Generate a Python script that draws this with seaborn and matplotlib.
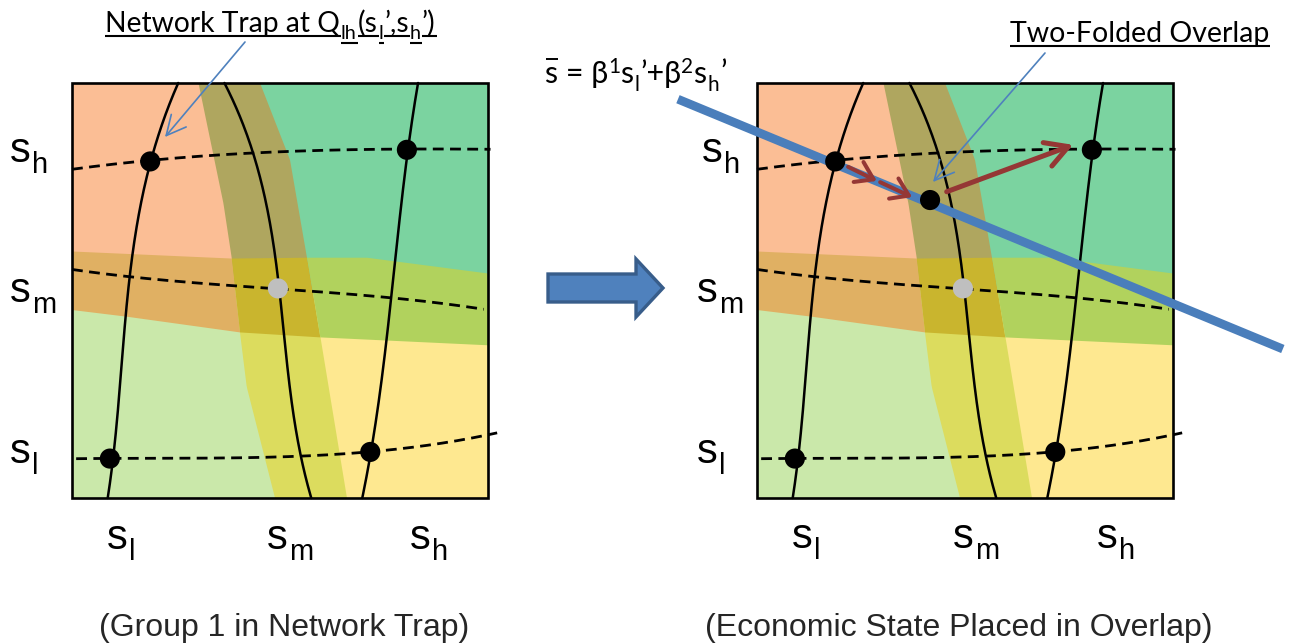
import numpy as np
import matplotlib
matplotlib.use('Agg')
import matplotlib.pyplot as plt
import seaborn as sns
from matplotlib.patches import Polygon, Rectangle

sns.set_theme(style='white')
SANS = ['Liberation Sans', 'DejaVu Sans']
CAL = ['Lato', 'Noto Sans', 'DejaVu Sans']
plt.rcParams['font.family'] = SANS

# ---------------- data (panel units: u across the box, v down the box) -------------
CURVE_L_U = [0.256, 0.188, 0.144, 0.123, 0.091, 0.090]
CURVE_L_V = [0.0, 0.189, 0.418, 0.692, 0.905, 1.0]
CURVE_M_U = [0.364, 0.436, 0.476, 0.495, 0.532, 0.574]
CURVE_M_V = [0.0, 0.153, 0.354, 0.495, 0.772, 1.0]
CURVE_H_U = [0.833, 0.805, 0.773, 0.741, 0.717, 0.699]
CURVE_H_V = [0.0, 0.161, 0.491, 0.732, 0.889, 1.0]

DASH_H_U = [0.0, 0.188, 0.452, 0.805, 1.006]
DASH_H_V = [0.207, 0.189, 0.165, 0.161, 0.159]
DASH_M_U = [0.0, 0.212, 0.495, 0.773, 0.99]
DASH_M_V = [0.449, 0.475, 0.495, 0.519, 0.545]
DASH_L_U = [0.010, 0.091, 0.484, 0.717, 0.853, 1.022]
DASH_L_V = [0.905, 0.905, 0.901, 0.889, 0.873, 0.843]

EQ_U = [0.188, 0.805, 0.091, 0.717]
EQ_V = [0.189, 0.161, 0.905, 0.889]
TRAP_U = [0.495]
TRAP_V = [0.495]

# vertical (s_m) band and horizontal (s_m) band boundaries
VB_L_U = [0.304, 0.364, 0.384, 0.404, 0.420, 0.488]
VB_L_V = [0.0, 0.290, 0.422, 0.603, 0.732, 1.0]
VB_R_U = [0.452, 0.524, 0.565, 0.597, 0.661]
VB_R_V = [0.0, 0.185, 0.422, 0.611, 1.0]
HB_T_U = [0.0, 0.384, 0.565, 0.709, 1.0]
HB_T_V = [0.406, 0.423, 0.421, 0.421, 0.459]
HB_B_U = [0.0, 0.131, 0.404, 0.597, 1.0]
HB_B_V = [0.547, 0.563, 0.601, 0.613, 0.632]

# quadrant regions (their shared borders lie under the bands)
QUAD_TL = [(0, 0), (0.38, 0), (0.475, 0.5), (0, 0.5)]
QUAD_TR = [(0.38, 0), (1, 0), (1, 0.5), (0.475, 0.5)]
QUAD_BL = [(0, 0.5), (0.475, 0.5), (0.57, 1), (0, 1)]
QUAD_BR = [(0.475, 0.5), (1, 0.5), (1, 1), (0.57, 1)]

# right panel extras
BLUE_LINE_U = [-0.19, 1.264]
BLUE_LINE_V = [0.039, 0.641]
OVERLAP_U = [0.416]
OVERLAP_V = [0.282]
RED_ARROWS = [((0.219, 0.202), (0.288, 0.236)),
              ((0.296, 0.239), (0.373, 0.275)),
              ((0.456, 0.262), (0.760, 0.149))]

AXIS_SUBS = ['l', 'm', 'h']
CAPTIONS = ['(Group 1 in Network Trap)', '(Economic State Placed in Overlap)']

COL = dict(tl='#FBBE95', tr='#7BD3A0', bl='#CAE8AA', br='#FEE890',
           vb_top='#AFA65F', vb_bot='#DCDC5E', hb_left='#E0B063',
           hb_mid='#C9B52E', hb_right='#B1D25D', grey='#BFBFBF',
           blue='#4A7EBB', thin='#4F81BD', red='#953735', edge='#385D8A')

# ---------------- layout ----------------
PANEL_X0 = [72, 757]
PANEL_Y0 = 83
PANEL_W = 416
PANEL_H = 415

fig = plt.figure(figsize=(12.96, 6.44), dpi=100)
ax = fig.add_axes([0, 0, 1, 1])
ax.set_xlim(0, 1296)
ax.set_ylim(644, 0)
ax.axis('off')
R = fig.canvas.get_renderer()


def to_px(p, u, v):
    return (PANEL_X0[p] + np.asarray(u, float) * PANEL_W,
            PANEL_Y0 + np.asarray(v, float) * PANEL_H)


def smooth_vert(us, vs, deg=3):
    """smooth curve u(v) through the read control points"""
    c = np.polyfit(vs, us, deg)
    vv = np.linspace(vs[0], vs[-1], 200)
    return np.polyval(c, vv), vv


def smooth_horiz(us, vs, deg=3):
    c = np.polyfit(us, vs, deg)
    uu = np.linspace(us[0], us[-1], 200)
    return uu, np.polyval(c, uu)


def poly(p, pts, color, z=1):
    pts = np.asarray(pts, float)
    x, y = to_px(p, pts[:, 0], pts[:, 1])
    ax.add_patch(Polygon(np.column_stack([x, y]), closed=True, facecolor=color,
                         edgecolor='none', zorder=z))


def draw_panel(p):
    poly(p, QUAD_TL, COL['tl'])
    poly(p, QUAD_TR, COL['tr'])
    poly(p, QUAD_BL, COL['bl'])
    poly(p, QUAD_BR, COL['br'])
    # vertical band
    for v0, v1, c in [(0.0, 0.5, COL['vb_top']), (0.5, 1.0, COL['vb_bot'])]:
        vv = np.linspace(v0, v1, 60)
        left = np.column_stack([np.interp(vv, VB_L_V, VB_L_U), vv])
        right = np.column_stack([np.interp(vv, VB_R_V, VB_R_U), vv])[::-1]
        poly(p, np.vstack([left, right]), c, z=1.2)
    # horizontal band
    ult, ulb = VB_L_U[2], VB_L_U[3]
    urt, urb = VB_R_U[2], VB_R_U[3]
    uu = np.linspace(0, ult, 40)
    ub = np.linspace(ulb, 0, 40)
    left = np.vstack([np.column_stack([uu, np.interp(uu, HB_T_U, HB_T_V)]),
                      np.column_stack([ub, np.interp(ub, HB_B_U, HB_B_V)])])
    poly(p, left, COL['hb_left'], z=1.4)
    mid = [(ult, np.interp(ult, HB_T_U, HB_T_V)), (urt, np.interp(urt, HB_T_U, HB_T_V)),
           (urb, np.interp(urb, HB_B_U, HB_B_V)), (ulb, np.interp(ulb, HB_B_U, HB_B_V))]
    poly(p, mid, COL['hb_mid'], z=1.4)
    uu = np.linspace(urt, 1, 40)
    ub = np.linspace(1, urb, 40)
    right = np.vstack([np.column_stack([uu, np.interp(uu, HB_T_U, HB_T_V)]),
                       np.column_stack([ub, np.interp(ub, HB_B_U, HB_B_V)])])
    poly(p, right, COL['hb_right'], z=1.4)

    # solid curves
    for cu, cv in [(CURVE_L_U, CURVE_L_V), (CURVE_M_U, CURVE_M_V), (CURVE_H_U, CURVE_H_V)]:
        su, sv = smooth_vert(cu, cv)
        x, y = to_px(p, su, sv)
        sns.lineplot(x=x, y=y, sort=False, estimator=None, color='black', lw=1.8, ax=ax, zorder=3)
    # dashed curves
    for cu, cv in [(DASH_H_U, DASH_H_V), (DASH_M_U, DASH_M_V), (DASH_L_U, DASH_L_V)]:
        su, sv = smooth_horiz(cu, cv)
        x, y = to_px(p, su, sv)
        ax.plot(x, y, color='black', lw=2.0, linestyle=(0, (3.9, 2.3)), zorder=3)
    # frame
    ax.add_patch(Rectangle((PANEL_X0[p], PANEL_Y0), PANEL_W, PANEL_H, fill=False,
                           edgecolor='black', lw=1.9, zorder=5))
    # dots
    x, y = to_px(p, EQ_U, EQ_V)
    sns.scatterplot(x=x, y=y, s=210, color='black', edgecolor='none', ax=ax, zorder=7)
    x, y = to_px(p, TRAP_U, TRAP_V)
    sns.scatterplot(x=x, y=y, s=210, color=COL['grey'], edgecolor='none', ax=ax, zorder=7)


draw_panel(0)
draw_panel(1)

# blue s-bar line on right panel
x, y = to_px(1, BLUE_LINE_U, BLUE_LINE_V)
ax.plot(x, y, color=COL['blue'], lw=6.3, solid_capstyle='butt', zorder=6)
x, y = to_px(1, OVERLAP_U, OVERLAP_V)
sns.scatterplot(x=x, y=y, s=210, color='black', edgecolor='none', ax=ax, zorder=7)
for i, (a, b) in enumerate(RED_ARROWS):
    xa, ya = to_px(1, a[0], a[1])
    xb, yb = to_px(1, b[0], b[1])
    big = i == 2
    style = '->,head_length=0.8,head_width=0.45' if big else '->,head_length=0.6,head_width=0.4'
    ax.annotate('', xy=(xb, yb), xytext=(xa, ya),
                arrowprops=dict(arrowstyle=style, color=COL['red'], lw=3.6 if big else 2.9,
                                shrinkA=0, shrinkB=0, mutation_scale=20), zorder=8)

# thin pointer arrows
ax.annotate('', xy=(165, 137), xytext=(245, 42),
            arrowprops=dict(arrowstyle='->,head_length=0.7,head_width=0.35', color=COL['thin'],
                            lw=1.2, shrinkA=0, shrinkB=0, mutation_scale=20), zorder=8)
ax.annotate('', xy=(933, 182), xytext=(1045, 53),
            arrowprops=dict(arrowstyle='->,head_length=0.7,head_width=0.35', color=COL['thin'],
                            lw=1.2, shrinkA=0, shrinkB=0, mutation_scale=20), zorder=8)

# block arrow between panels
ax.add_patch(Polygon([(548, 274), (636, 274), (636, 259), (663, 288), (636, 317), (636, 302),
                      (548, 302)], closed=True, facecolor=COL['thin'], edgecolor=COL['edge'],
                     lw=2.4, joinstyle='miter', zorder=5))


# ---------------- text ----------------
def width(t):
    return t.get_window_extent(renderer=R).width


def s_label(x, y, sub, size=30, subsize=21, drop=11):
    t = ax.text(x, y, 's', fontsize=size, ha='left', va='baseline', family=SANS, color='black')
    ax.text(x + width(t) + 1, y + drop, sub, fontsize=subsize, ha='left', va='baseline',
            family=SANS, color='black')


for (yx, xx, xy) in [((10, 10, 10), (107, 267, 410), 549), ((697, 697, 702), (792, 953, 1097), 548)]:
    for base, sub, lx in zip([463, 302, 162], AXIS_SUBS, yx):
        s_label(lx, base, sub)
    for sub, lx in zip(AXIS_SUBS, xx):
        s_label(lx, xy, sub)

ax.text(284, 636, CAPTIONS[0], fontsize=23, ha='center', va='baseline', family=SANS)
ax.text(959, 636, CAPTIONS[1], fontsize=23, ha='center', va='baseline', family=SANS)


def runs(items, x, y, size, sub_scale=0.7, drop=7, rise=11, underline=False):
    cur = x
    for txt, kind in items:
        if kind == 'n':
            sz, yy, gap = size, y, 1
        elif kind == 's':
            sz, yy, gap = size * sub_scale, y + drop, 1
        else:
            sz, yy, gap = size * sub_scale, y - rise, 0
            cur -= 1
        t = ax.text(cur, yy, txt, fontsize=sz, family=CAL, ha='left', va='baseline', color='black')
        w = width(t)
        if underline:
            ax.plot([cur, cur + w + 1], [yy + 3.5, yy + 3.5], color='black', lw=1.5,
                    solid_capstyle='butt')
        cur += w + gap
    return cur


runs([('Network Trap at Q', 'n'), ('lh', 's'), ('(s', 'n'), ('l', 's'), ('\u2019,s', 'n'),
      ('h', 's'), ('\u2019)', 'n')], 105, 32, 20.3, underline=True)
runs([('Two-Folded Overlap', 'n')], 1010, 42, 20.5, underline=True)

tmp = ax.text(545, 83, 's', fontsize=22, family=CAL, ha='left', va='baseline')
sw = width(tmp)
ax.plot([546, 545 + sw], [59, 59], color='black', lw=1.4, solid_capstyle='butt')
runs([('s = \u03b2', 'n'), ('1', 'u'), ('s', 'n'), ('l', 's'), ('\u2019+\u03b2', 'n'), ('2', 'u'),
      ('s', 'n'), ('h', 's'), ('\u2019', 'n')], 545, 83, 22, sub_scale=0.68, drop=8, rise=10)
tmp.remove()

fig.savefig('out.png', dpi=100, facecolor='white')
